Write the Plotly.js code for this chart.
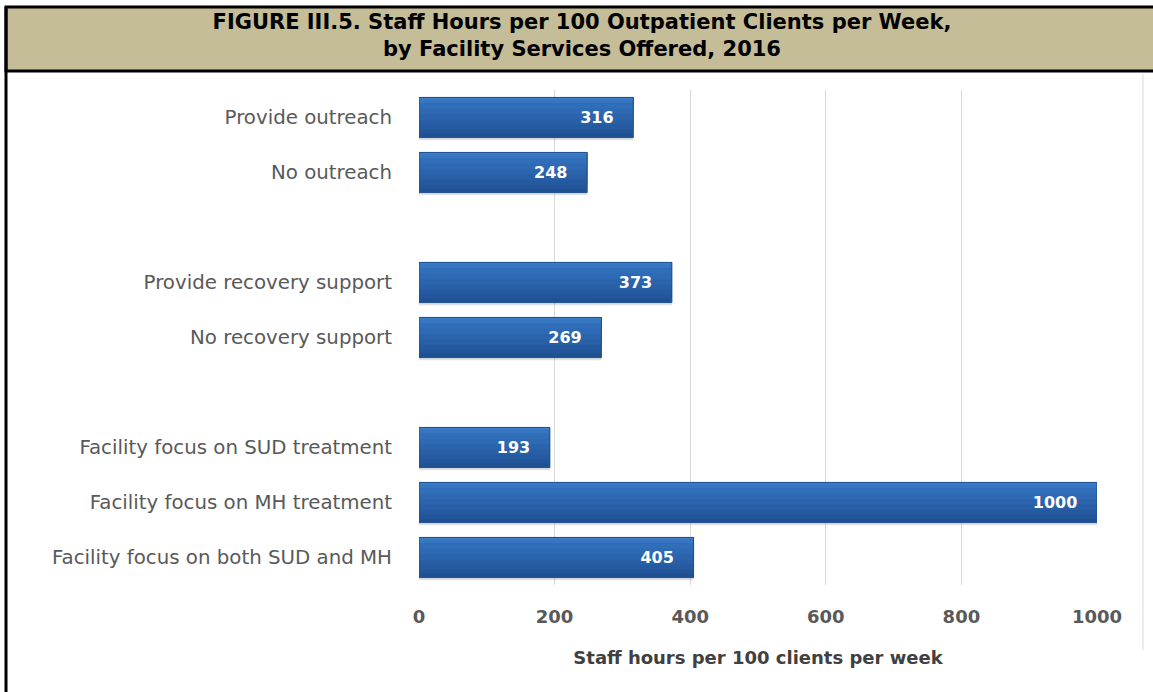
<!DOCTYPE html>
<html>
<head>
<meta charset="utf-8">
<script src="https://cdn.plot.ly/plotly-3.0.1.min.js"></script>
<style>
html,body{margin:0;padding:0;background:#fff;}
#chart{width:1153px;height:692px;}
</style>
</head>
<body>
<div id="chart"></div>
<script>
// Data (top to bottom as drawn); blank entries are group spacers
var categories = [
  "Provide outreach",
  "No outreach",
  " ",
  "Provide recovery support",
  "No recovery support",
  "  ",
  "Facility focus on SUD treatment",
  "Facility focus on MH treatment",
  "Facility focus on both SUD and MH"
];
var values = [316, 248, null, 373, 269, null, 193, 1000, 405];
var xTicks = [0, 200, 400, 600, 800, 1000];
var titleText = "FIGURE III.5. Staff Hours per 100 Outpatient Clients per Week,<br>by Facility Services Offered, 2016";
var xTitle = "Staff hours per 100 clients per week";

var W = 1153, H = 692;
var M = {l: 419, r: 56, t: 90, b: 107};
var pw = W - M.l - M.r, ph = H - M.t - M.b;
function px(x){ return (x - M.l) / pw; }
function py(y){ return (H - M.b - y) / ph; }

var FONT = "'DejaVu Sans', Verdana, sans-serif";
var NB = "\u00a0\u00a0\u00a0";
var BW = 0.73;

// Shading bands (same data, drawn as overlaid bars to mimic the gradient)
function band(width, offset, color){
  return {
    type: "bar", orientation: "h", y: categories, x: values,
    width: width, offset: offset,
    marker: {color: color, line: {width: 0}},
    hoverinfo: "skip", showlegend: false
  };
}
var bandSpec = [
  [1.00, "#1F5092"],
  [0.90, "#22559A"],
  [0.80, "#255AA1"],
  [0.68, "#285FA7"],
  [0.55, "#2B64AD"],
  [0.42, "#2E69B3"],
  [0.28, "#316EB9"],
  [0.14, "#3675C0"],
  [0.05, "#3D7DC8"]
];
var traces = [band(0.05, BW / 2, "rgba(90,90,90,0.18)")];
bandSpec.forEach(function(b){ traces.push(band(BW * b[0], -BW / 2, b[1])); });
traces.push({
  type: "bar", orientation: "h", y: categories, x: values,
  width: BW, offset: -BW / 2,
  marker: {color: "rgba(0,0,0,0)", line: {color: "#1E4F8E", width: 1}},
  texttemplate: "%{x}" + NB,
  textposition: "inside",
  insidetextanchor: "end",
  textfont: {family: FONT, size: 16, color: "#ffffff", weight: "bold"},
  hoverinfo: "skip", showlegend: false
});

var layout = {
  width: W, height: H,
  margin: M,
  barmode: "overlay",
  paper_bgcolor: "#ffffff",
  plot_bgcolor: "#ffffff",
  showlegend: false,
  title: {
    text: titleText,
    font: {family: FONT, size: 21, color: "#000000", weight: "bold"},
    x: 582 / W, xref: "container", xanchor: "center",
    y: 1 - 29 / H, yref: "container", yanchor: "middle"
  },
  xaxis: {
    range: [0, 1000],
    tickvals: xTicks,
    ticktext: xTicks.map(String),
    showgrid: true,
    gridcolor: "#D9D9D9",
    gridwidth: 1,
    zeroline: false,
    showline: false,
    ticks: "",
    ticklabelstandoff: 19,
    tickfont: {family: FONT, size: 18, color: "#595959", weight: "bold"},
    title: {text: xTitle, standoff: 25,
      font: {family: FONT, size: 18, color: "#404040", weight: "bold"}},
    fixedrange: true
  },
  yaxis: {
    type: "category",
    categoryorder: "array",
    categoryarray: categories,
    autorange: "reversed",
    showgrid: false,
    zeroline: false,
    showline: false,
    ticks: "",
    ticklabelstandoff: 26,
    tickfont: {family: FONT, size: 19.8, color: "#595959"},
    fixedrange: true
  },
  shapes: [
    {type: "rect", xref: "paper", yref: "paper", layer: "below",
      x0: px(6), x1: px(1160), y0: py(71), y1: py(7),
      fillcolor: "#C4BD97", line: {color: "#000000", width: 3}},
    {type: "line", xref: "paper", yref: "paper",
      x0: px(6), x1: px(6), y0: py(7), y1: py(700),
      line: {color: "#000000", width: 3}},
    {type: "line", xref: "paper", yref: "paper", layer: "below",
      x0: px(1143), x1: px(1143), y0: py(74), y1: py(650),
      line: {color: "#EDEDED", width: 2}}
  ]
};

Plotly.newPlot("chart", traces, layout, {displayModeBar: false, staticPlot: true});
</script>
</body>
</html>
